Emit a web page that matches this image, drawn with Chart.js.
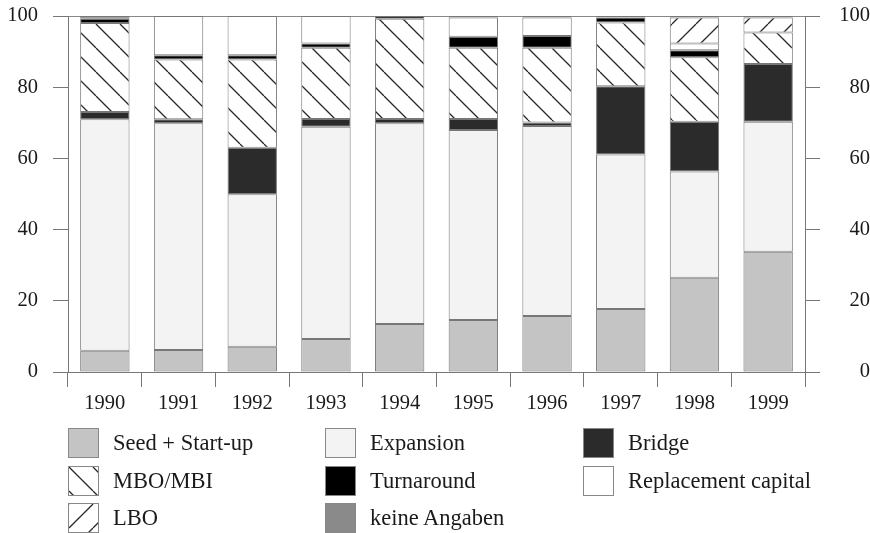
<!DOCTYPE html>
<html>
<head>
<meta charset="utf-8">
<script src="https://cdn.jsdelivr.net/npm/chart.js@4/dist/chart.umd.min.js"></script>
<style>
  body { margin: 0; background: #fff; }
  #wrap { position: relative; width: 870px; height: 533px; }
  #legend { position: absolute; left: 0; top: 0; width: 870px; height: 533px; pointer-events: none;
            font-family: "Liberation Serif", "DejaVu Serif", serif; font-size: 22.5px; color: #1a1a1a; }
  .item { position: absolute; display: flex; align-items: center; height: 30px; }
  .sw { width: 31px; height: 30px; border: 1px solid #888; box-sizing: border-box; margin-right: 14px; }
</style>
</head>
<body>
<div id="wrap">
  <canvas id="chart" width="870" height="533"></canvas>
  <div id="legend"></div>
</div>
<script>
const years = ['1990', '1991', '1992', '1993', '1994', '1995', '1996', '1997', '1998', '1999'];

// Anteile in % (von unten nach oben gestapelt)
const seed        = [6.0, 6.2, 7.1, 9.3, 13.5, 14.6, 15.7, 17.7, 26.5, 33.8];
const expansion   = [65.0, 63.7, 42.8, 59.6, 56.4, 53.4, 53.4, 43.4, 29.8, 36.5];
const bridge      = [2.0, 1.1, 13.1, 2.2, 1.2, 3.1, 1.0, 19.2, 14.0, 16.2];
const mbo         = [25.0, 16.8, 24.8, 20.0, 28.1, 20.0, 21.0, 17.9, 18.1, 8.9];
const turnaround  = [1.2, 1.2, 1.2, 1.2, 0.8, 3.1, 3.3, 1.4, 2.0, 0];
const replacement = [0, 11.0, 11.0, 7.7, 0, 5.4, 5.2, 0, 1.9, 0];
const lbo         = [0, 0, 0, 0, 0, 0, 0, 0, 7.3, 4.2];
const keine       = [0.8, 0, 0, 0, 0, 0.4, 0.4, 0.4, 0.4, 0.4];

const yTicks = [0, 20, 40, 60, 80, 100];

// Schraffur als Canvas-Muster
function hatchCanvas(dir) {
  const s = 24;
  const c = document.createElement('canvas');
  c.width = s; c.height = s;
  const g = c.getContext('2d');
  g.fillStyle = '#fff';
  g.fillRect(0, 0, s, s);
  g.strokeStyle = '#2a2a2a';
  g.lineWidth = 1.3;
  for (let k = -1; k <= 1; k++) {
    g.beginPath();
    if (dir === 'back') { g.moveTo(k * s, 0); g.lineTo(k * s + s, s); }
    else { g.moveTo(k * s, s); g.lineTo(k * s + s, 0); }
    g.stroke();
  }
  return c;
}

const backCanvas = hatchCanvas('back');
const fwdCanvas = hatchCanvas('fwd');
const ctx = document.getElementById('chart').getContext('2d');
const backPat = ctx.createPattern(backCanvas, 'repeat');
const fwdPat = ctx.createPattern(fwdCanvas, 'repeat');

const series = [
  { label: 'Seed + Start-up', data: seed, fill: '#c4c4c4' },
  { label: 'Expansion', data: expansion, fill: '#f3f3f3' },
  { label: 'Bridge', data: bridge, fill: '#2b2b2b' },
  { label: 'MBO/MBI', data: mbo, fill: backPat, img: backCanvas },
  { label: 'Turnaround', data: turnaround, fill: '#000' },
  { label: 'Replacement capital', data: replacement, fill: '#fff' },
  { label: 'LBO', data: lbo, fill: fwdPat, img: fwdCanvas },
  { label: 'keine Angaben', data: keine, fill: '#8a8a8a' },
];

const tickFont = { family: '"Liberation Serif", "DejaVu Serif", serif', size: 20.5 };

// feste Achsenbreiten, ohne zusätzlichen Rand oben/unten
function fixY(width) {
  return s => { s.width = width; s.paddingTop = 0; s.paddingBottom = 0; };
}

new Chart(ctx, {
  type: 'bar',
  data: {
    labels: years,
    datasets: series.map(s => ({
      label: s.label,
      data: s.data,
      backgroundColor: s.fill,
      borderColor: '#777',
      borderWidth: 1,
      borderSkipped: false,
      categoryPercentage: 0.67,
      barPercentage: 1,
    })),
  },
  options: {
    responsive: false,
    animation: false,
    layout: { padding: { top: 16, bottom: 121, left: 0, right: 0 } },
    plugins: { legend: { display: false }, tooltip: { enabled: false } },
    scales: {
      x: {
        stacked: true,
        grid: { offset: true, drawOnChartArea: false, tickLength: 15, color: '#777' },
        border: { display: true, color: '#777' },
        ticks: { font: tickFont, color: '#1a1a1a', padding: 4, maxRotation: 0 },
        afterFit: s => { s.height = 40; },
      },
      y: {
        stacked: true,
        min: 0, max: 100,
        afterBuildTicks: s => { s.ticks = yTicks.map(v => ({ value: v })); },
        grid: {
          drawOnChartArea: true, tickLength: 15, tickColor: '#777',
          color: c => (c.tick && c.tick.value === 100 ? '#888' : 'rgba(0,0,0,0)'),
        },
        border: { display: true, color: '#777' },
        ticks: { font: tickFont, color: '#1a1a1a', padding: 15 },
        afterFit: fixY(68),
      },
      y2: {
        position: 'right',
        display: true,
        min: 0, max: 100,
        afterBuildTicks: s => { s.ticks = yTicks.map(v => ({ value: v })); },
        grid: { drawOnChartArea: false, tickLength: 15, color: '#777' },
        border: { display: true, color: '#777' },
        ticks: { font: tickFont, color: '#1a1a1a', padding: 15, crossAlign: 'far' },
        afterFit: fixY(65),
      },
    },
  },
});

// Legende in drei Spalten
const legendLayout = [
  ['Seed + Start-up', 68, 428], ['MBO/MBI', 68, 466], ['LBO', 68, 503],
  ['Expansion', 325, 428], ['Turnaround', 325, 466], ['keine Angaben', 325, 503],
  ['Bridge', 583, 428], ['Replacement capital', 583, 466],
];
const legend = document.getElementById('legend');
legendLayout.forEach(([name, x, y]) => {
  const s = series.find(d => d.label === name);
  const item = document.createElement('div');
  item.className = 'item';
  item.style.left = x + 'px';
  item.style.top = y + 'px';
  const sw = document.createElement('div');
  sw.className = 'sw';
  if (s.img) sw.style.background = 'url(' + s.img.toDataURL() + ')';
  else sw.style.background = s.fill;
  const txt = document.createElement('span');
  txt.textContent = name;
  item.appendChild(sw);
  item.appendChild(txt);
  legend.appendChild(item);
});
</script>
</body>
</html>
